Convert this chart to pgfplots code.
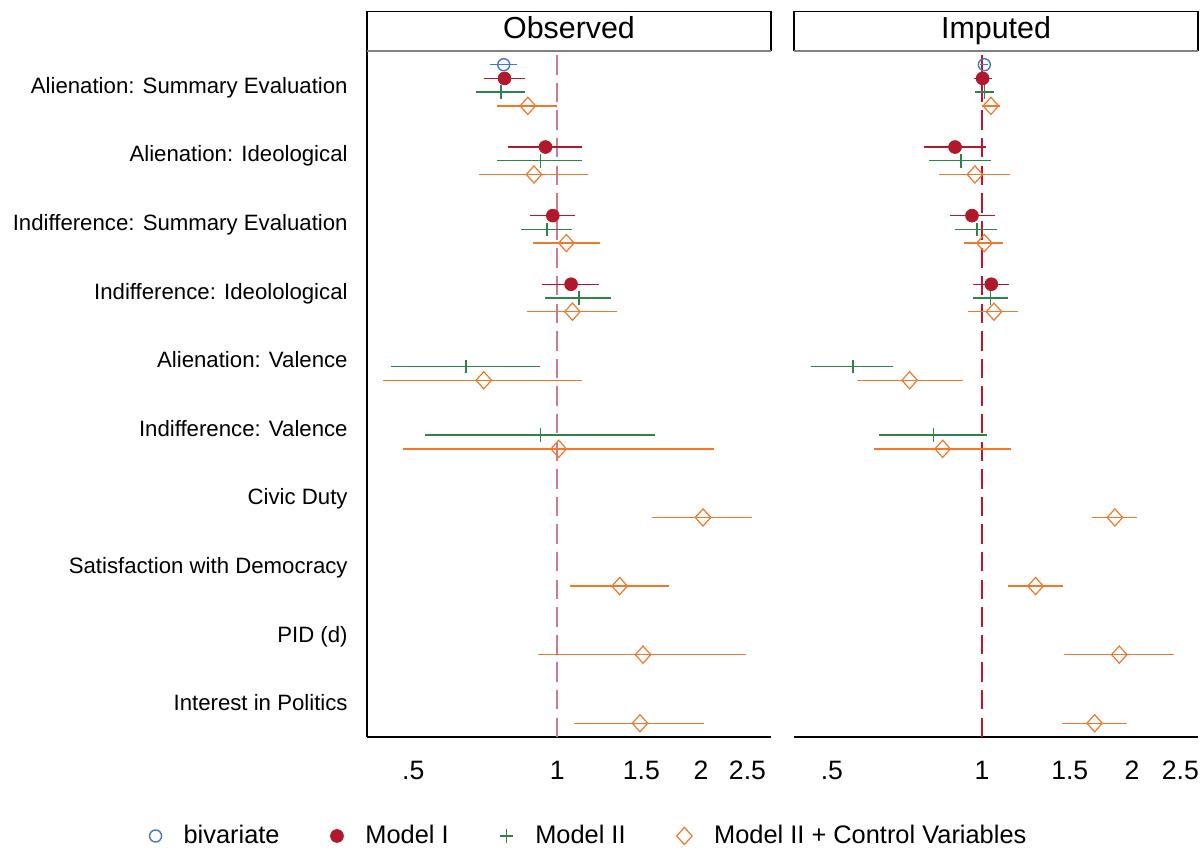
\documentclass[border=0pt]{standalone}
\usepackage{pgfplots}
\pgfplotsset{compat=1.18}
\usepackage{pgfplotstable}
\usepackage{fontspec}
\setmainfont{Liberation Sans}

\definecolor{biv}{RGB}{70,120,190}
\definecolor{mone}{RGB}{178,24,43}
\definecolor{mtwo}{RGB}{46,132,72}
\definecolor{ctrl}{RGB}{240,120,40}
\definecolor{refl}{RGB}{214,120,140}
\definecolor{refr}{RGB}{200,16,46}

% odds ratios with 95% CI, c = row (1 = top)
\pgfplotstableread{
c est lo hi
1 0.773 0.722 0.824
}\obsBiv
\pgfplotstableread{
c est lo hi
1 0.776 0.704 0.855
2 0.945 0.789 1.129
3 0.979 0.875 1.089
4 1.069 0.931 1.221
}\obsMone
\pgfplotstableread{
c est lo hi
1 0.763 0.675 0.855
2 0.922 0.748 1.129
3 0.952 0.840 1.074
4 1.111 0.945 1.298
5 0.644 0.448 0.919
6 0.922 0.529 1.602
}\obsMtwo
\pgfplotstableread{
c est lo hi
1 0.868 0.748 1.001
2 0.894 0.686 1.160
3 1.045 0.889 1.227
4 1.076 0.866 1.332
5 0.702 0.432 1.129
6 1.007 0.476 2.128
7 2.018 1.582 2.561
8 1.351 1.064 1.713
9 1.512 0.912 2.488
10 1.490 1.086 2.032
}\obsCtrl

\pgfplotstableread{
c est lo hi
1 1.011 0.990 1.030
}\impBiv
\pgfplotstableread{
c est lo hi
1 1.003 0.965 1.049
2 0.883 0.766 1.019
3 0.955 0.863 1.060
4 1.044 0.961 1.131
}\impMone
\pgfplotstableread{
c est lo hi
1 1.011 0.970 1.055
2 0.908 0.784 1.044
3 0.977 0.884 1.070
4 1.041 0.961 1.126
5 0.551 0.454 0.663
6 0.799 0.622 1.023
}\impMtwo
\pgfplotstableread{
c est lo hi
1 1.042 1.001 1.085
2 0.968 0.821 1.137
3 1.011 0.920 1.102
4 1.057 0.939 1.183
5 0.716 0.561 0.915
6 0.834 0.608 1.142
7 1.848 1.662 2.043
8 1.281 1.126 1.454
9 1.886 1.462 2.431
10 1.683 1.449 1.957
}\impCtrl

\pgfplotsset{
  sbiv/.style={color=biv, mark=o, mark size=3pt, mark options={line width=0.7pt}},
  smone/.style={color=mone, mark=*, mark size=3.2pt},
  smtwo/.style={color=mtwo, mark=+, mark size=3.4pt, mark options={line width=0.7pt}},
  sctrl/.style={color=ctrl, mark=diamond, mark size=4.3pt, mark options={xscale=1.2, line width=0.6pt}},
}

% one series: marker + horizontal CI
\newcommand{\coef}[4]{%
  \addplot[only marks, #1,
    error bars/x dir=both, error bars/x explicit, error bars/error mark=none,
    error bars/error bar style={line width=0.7pt}]
    table[x=est, y expr=11-\thisrow{c}+#2,
    x error plus expr=\thisrow{hi}-\thisrow{est},
    x error minus expr=\thisrow{est}-\thisrow{lo}] {#3};
  \addlegendentry{#4}}

% panel header box
\newcommand{\header}[2]{%
  \node[draw=black, line width=0.6pt, minimum width=202pt, minimum height=19.5pt,
    inner sep=0pt, anchor=south, text height=0.72em, text depth=0pt,
    font=\fontsize{15.2}{18}\selectfont] at (#1.north) {#2};
  \draw[gray, line width=1pt] (#1.north west) -- (#1.north east);}

\begin{document}
\begin{tikzpicture}
\useasboundingbox (0,0) rectangle (602pt,424.5pt);

\begin{axis}[name=obs, scale only axis, width=202pt, height=343pt, anchor=south west,
  at={(183.5pt,56pt)},
  xmode=log, enlargelimits=false,
  xmin=0.4, xmax=2.8, ymin=0.5, ymax=10.5,
  xtick={0.5,1,1.5,2,2.5}, xticklabels={.5,1,1.5,2,2.5},
  minor xtick={}, major tick length=0pt,
  axis x line*=bottom, axis y line*=left,
  axis line style={-, line width=0.6pt},
  xticklabel style={font=\fontsize{13.3}{16}\selectfont, anchor=base, inner sep=0pt, yshift=-21.5pt},
  ytick={1,...,10},
  yticklabels={Interest in Politics, PID (d), Satisfaction with Democracy, Civic Duty,
    Indifference: Valence, Alienation: Valence, Indifference: Ideolological,
    Indifference: Summary Evaluation, Alienation: Ideological, Alienation: Summary Evaluation},
  yticklabel style={font=\fontsize{11.1}{13}\selectfont, anchor=base east, inner sep=0pt,
    xshift=-9.5pt, yshift=-3.97pt},
  ]
  \addplot[refl, line width=1pt, dash pattern=on 9.7pt off 4.1pt, forget plot]
    coordinates {(1,0.5) (1,10.5)};
  \coef{sbiv}{0.3}{\obsBiv}{bivariate}
  \coef{smone}{0.1}{\obsMone}{Model I}
  \coef{smtwo}{-0.1}{\obsMtwo}{Model II}
  \coef{sctrl}{-0.3}{\obsCtrl}{Model II + Control Variables}
  \legend{}
\end{axis}

\begin{axis}[name=imp, scale only axis, width=202pt, height=343pt, anchor=south west,
  at={(397pt,56pt)},
  xmode=log, enlargelimits=false,
  xmin=0.4196, xmax=2.713, ymin=0.5, ymax=10.5,
  xtick={0.5,1,1.5,2,2.5}, xticklabels={.5,1,1.5,2,2.5},
  minor xtick={}, major tick length=0pt,
  axis x line*=bottom, axis y line=none, ytick=\empty,
  axis line style={-, line width=0.6pt},
  xticklabel style={font=\fontsize{13.3}{16}\selectfont, anchor=base, inner sep=0pt, yshift=-21.5pt},
  legend columns=4, legend cell align=left,
  legend style={at={(-0.505,-0.1443)}, anchor=center, draw=none, fill=none,
    font=\fontsize{12.7}{15}\selectfont,
    /tikz/every odd column/.append style={column sep=9pt},
    /tikz/every even column/.append style={column sep=23.5pt}},
  ]
  \addplot[refr, line width=0.7pt, dash pattern=on 9.7pt off 4.1pt, forget plot]
    coordinates {(1,0.5) (1,10.5)};
  \coef{sbiv}{0.3}{\impBiv}{bivariate}
  \coef{smone}{0.1}{\impMone}{Model I}
  \coef{smtwo}{-0.1}{\impMtwo}{Model II}
  \coef{sctrl}{-0.3}{\impCtrl}{Model II + Control Variables}
\end{axis}

\header{obs}{Observed}
\header{imp}{Imputed}
\end{tikzpicture}
\end{document}
